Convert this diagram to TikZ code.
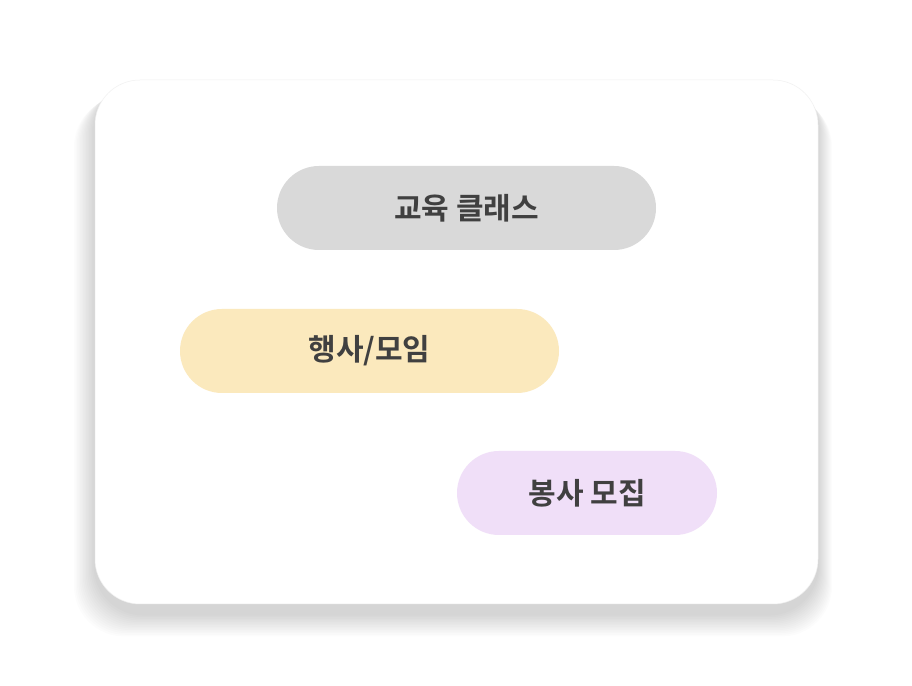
\documentclass[tikz,border=0pt]{standalone}
\usepackage{fontspec}
\newfontfamily\kr[BoldFont={Noto Sans CJK KR Bold}]{Noto Sans CJK KR}
\definecolor{txt}{HTML}{404040}
\definecolor{pgray}{HTML}{D9D9D9}
\definecolor{pyel}{HTML}{FBE9BD}
\definecolor{ppur}{HTML}{F0DFF8}
\tikzset{pill/.style={rounded corners=42pt, draw=none},
 lbl/.style={text=txt, font=\kr\bfseries\fontsize{30}{36}\selectfont}}
\begin{document}
\begin{tikzpicture}[x=1pt,y=1pt]
\useasboundingbox (0,0) rectangle (912,685);
\fill[white] (0,0) rectangle (912,685);
% shadow
\foreach \i in {1,...,14}{
  \fill[black, opacity=0.012, rounded corners=50pt] (95-1.5*\i,81-1.6*\i-10) rectangle (818+1.0*\i,605-1.2*\i);
}
\fill[white, rounded corners=45pt, draw=black!6, line width=0.5pt] (95,81) rectangle (818,605);
\fill[pgray, pill] (277,435) rectangle (656,519);
\fill[pyel, pill] (180,292) rectangle (559,376);
\fill[ppur, pill] (457,150) rectangle (717,234);
\node[lbl] (a) at (466.5,477) {교육 클래스};
\node[lbl] (b) at (369.5,334) {행사/모임};
\node[lbl] (c) at (587,192) {봉사 모집};
\end{tikzpicture}
\end{document}
